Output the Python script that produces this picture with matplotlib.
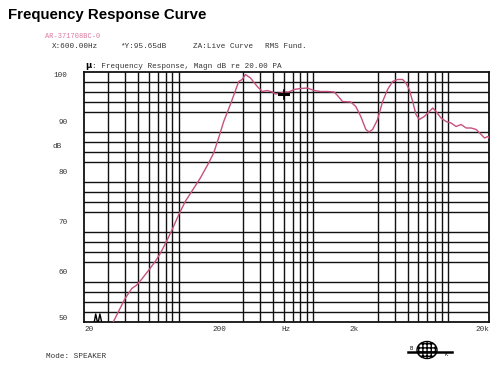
import numpy as np
import matplotlib.pyplot as plt
from matplotlib.patches import Ellipse
from matplotlib.ticker import NullFormatter

# response curve
freq_hz = [32.5, 40.1, 45.0, 49.0, 53.4, 59.8, 67.1, 73.1, 80.6, 89.3,
           100, 112, 145, 167, 182, 198, 216, 242, 279, 296,
           313, 341, 383, 417, 454, 495, 523, 570, 604, 657,
           716, 803, 901, 1008, 1131, 1269, 1421, 1506, 1640, 1890,
           2058, 2243, 2444, 2586, 2742, 2986, 3253, 3543, 3860, 4204,
           4580, 4846, 5128, 5436, 5750, 6085, 6628, 7220, 7654, 8100,
           8822, 9612, 10470, 11400, 12430, 13540, 14750, 16070, 17500, 18510,
           19630, 20000]
level_db = [49.8, 54.7, 56.7, 57.4, 58.6, 60.3, 62.1, 63.7, 65.9, 68.4,
            71.4, 74.1, 78.8, 81.8, 83.8, 86.8, 90.1, 93.5, 98.1, 98.5,
            99.5, 98.8, 97.1, 96.1, 96.3, 96.0, 95.6, 95.8, 96.0, 96.0,
            96.5, 96.7, 96.8, 96.3, 96.1, 96.1, 96.0, 95.3, 94.1, 94.0,
            93.1, 91.1, 88.5, 88.0, 88.5, 90.5, 94.1, 96.5, 98.1, 98.5,
            98.5, 97.8, 96.5, 94.1, 91.5, 90.5, 91.1, 92.1, 92.8, 92.1,
            90.8, 90.1, 89.8, 89.1, 89.5, 88.8, 88.8, 88.5, 87.5, 86.8,
            87.1, 86.8]

# noise floor blips at the bottom left
floor_hz = [23.7, 24.3, 25.0, 25.4, 26.1, 26.9]
floor_db = [50.0, 51.6, 50.0, 50.0, 51.6, 50.0]

cursor_hz = 600.0
cursor_db = 95.65

x_labels = {20: "20", 200: "200", 630: "Hz", 2000: "2k", 20000: "20k"}
y_labels = [50, 60, 70, 80, 90, 100]

mono = ["Liberation Mono", "DejaVu Sans Mono"]

fig = plt.figure(figsize=(5, 3.7), dpi=100)
fig.patch.set_facecolor("white")

ax = fig.add_axes([84.3 / 500, 1 - 322 / 370, (489 - 84.3) / 500, 250 / 370])
ax.set_xscale("log")
ax.set_xlim(20, 20000)
ax.set_ylim(50, 100)

# log grid: 20..90, 100..900, ...
grid_x = []
for dec in [10, 100, 1000, 10000]:
    for m in range(1, 10):
        f = m * dec
        if 20 <= f <= 20000:
            grid_x.append(f)
ax.set_xticks(grid_x, minor=True)
ax.xaxis.set_minor_formatter(NullFormatter())
ax.set_yticks(np.arange(50, 101, 2), minor=True)
ax.yaxis.set_minor_formatter(NullFormatter())
ax.grid(which="minor", color="#111111", lw=1.0)
ax.tick_params(which="both", length=0)

ax.set_xticks(list(x_labels.keys()))
ax.set_xticklabels(list(x_labels.values()), fontsize=5.5, family=mono, color="#333333")
ax.tick_params(axis="x", pad=3)
xt = ax.get_xticklabels()
xt[0].set_ha("left")
xt[-1].set_ha("right")

ax.set_yticks(y_labels)
ax.set_yticklabels([str(v) for v in y_labels], fontsize=5.5, family=mono, color="#333333")
ax.tick_params(axis="y", pad=12)
yt = ax.get_yticklabels()
yt[0].set_va("bottom")
yt[-1].set_va("top")
ax.text(-0.055, 0.7, "dB", transform=ax.transAxes, fontsize=5.5, family=mono,
        color="#333333", ha="right", va="center")

for s in ax.spines.values():
    s.set_color("#111111")
    s.set_linewidth(1.3)

ax.plot(freq_hz, level_db, color="#c8507e", lw=1.0, clip_on=True, zorder=3)
ax.plot(floor_hz, floor_db, color="black", lw=1.0, zorder=3)

# cursor
ax.plot([cursor_hz * 0.93, cursor_hz * 1.07], [cursor_db, cursor_db], color="black", lw=2.2, zorder=4)
ax.plot([cursor_hz, cursor_hz], [cursor_db - 1.0, cursor_db + 0.8], color="black", lw=1.2, zorder=4)

# header texts
fig.text(8 / 500, 1 - 15 / 370, "Frequency Response Curve", fontsize=10.8, fontweight="bold",
         family=["Liberation Sans Narrow", "Liberation Sans"], ha="left", va="center")
fig.text(45 / 500, 1 - 37 / 370, "AR-371708BC-0", fontsize=5, family=mono, color="#d9789e",
         ha="left", va="center")
for x, t in [(52, "X:600.00Hz"), (120, "*Y:95.65dB"), (193, "ZA:Live Curve"), (265, "RMS Fund.")]:
    fig.text(x / 500, 1 - 46 / 370, t, fontsize=5.5, family=mono, color="#333333", ha="left", va="center")
fig.text(85 / 500, 1 - 67 / 370, r"$\mathbf{\mu}$", fontsize=6, color="black", ha="left", va="center")
fig.text(92 / 500, 1 - 67 / 370, ": Frequency Response, Magn dB re 20.00 PA", fontsize=5.5,
         family=mono, color="#333333", ha="left", va="center")
fig.text(46 / 500, 1 - 357 / 370, "Mode: SPEAKER", fontsize=5.5, family=mono, color="#333333",
         ha="left", va="center")

# small globe logo
lg = fig.add_axes([400 / 500, 1 - 364 / 370, 60 / 500, 26 / 370])
lg.set_xlim(400, 460)
lg.set_ylim(364, 338)
lg.axis("off")
lg.add_patch(Ellipse((427, 350), 20, 17, facecolor="white", edgecolor="black", lw=1.0, hatch="++++"))
lg.plot([408, 452], [352, 352], color="black", lw=1.8)
lg.text(411, 349, "B", fontsize=3.5, ha="center", va="center")
lg.text(446, 355, "K", fontsize=3.5, ha="center", va="center")

fig.savefig("out.png", dpi=100)
